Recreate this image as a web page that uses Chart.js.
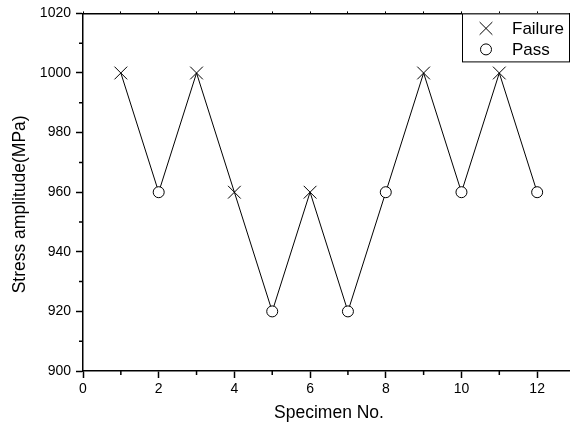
<!DOCTYPE html>
<html>
<head>
<meta charset="utf-8">
<script src="https://cdn.jsdelivr.net/npm/chart.js"></script>
<style>
  html, body { margin: 0; padding: 0; background: #fff; overflow: hidden; }
  #wrap { width: 576px; height: 428px; }
</style>
</head>
<body>
<div id="wrap"><canvas id="fatigueChart" width="576" height="428"></canvas></div>
<script>
// specimen number, stress level and outcome of each test (up-and-down method)
const specimens = [1, 2, 3, 4, 5, 6, 7, 8, 9, 10, 11, 12];
const stressAmplitude = [1000, 960, 1000, 960, 920, 960, 920, 960, 1000, 960, 1000, 960];
const outcome = ["F", "P", "F", "F", "P", "F", "P", "P", "F", "P", "F", "P"];

const xTicks = [0, 2, 4, 6, 8, 10, 12];
const yTicks = [900, 920, 940, 960, 980, 1000, 1020];

const allPoints = specimens.map((s, i) => ({ x: s, y: stressAmplitude[i] }));
const failurePoints = allPoints.filter((p, i) => outcome[i] === "F");
const passPoints = allPoints.filter((p, i) => outcome[i] === "P");

const FONT = "'Liberation Sans', Arial, sans-serif";

// short minor ticks between the labelled ones
const minorTicks = {
  id: "minorTicks",
  afterDraw(chart) {
    const { ctx, chartArea } = chart;
    const x = chart.scales.x;
    const y = chart.scales.y;
    ctx.save();
    ctx.strokeStyle = "#000";
    ctx.lineWidth = 1.5;
    ctx.beginPath();
    for (let i = 0; i < xTicks.length; i++) {
      const px = x.getPixelForValue(xTicks[i] + 1);
      ctx.moveTo(px, chartArea.bottom);
      ctx.lineTo(px, chartArea.bottom + 4);
    }
    for (let i = 0; i < yTicks.length - 1; i++) {
      const py = y.getPixelForValue(yTicks[i] + 10);
      ctx.moveTo(chartArea.left, py);
      ctx.lineTo(chartArea.left - 4, py);
    }
    ctx.stroke();
    ctx.restore();
  }
};

// boxed legend in the top right corner
const boxLegend = {
  id: "boxLegend",
  afterDraw(chart) {
    const { ctx, chartArea } = chart;
    const w = 107, h = 48;
    const left = chartArea.right - 6 - w;
    const top = chartArea.top;
    ctx.save();
    ctx.fillStyle = "#fff";
    ctx.fillRect(left, top, w, h);
    ctx.strokeStyle = "#000";
    ctx.lineWidth = 1;
    ctx.strokeRect(left + 0.5, top + 0.5, w, h);
    ctx.font = "17px " + FONT;
    ctx.textBaseline = "middle";
    const items = chart.data.datasets.filter(d => d.label);
    items.forEach((d, i) => {
      const cy = top + 15 + i * 21;
      ctx.fillStyle = d.backgroundColor;
      ctx.strokeStyle = d.borderColor;
      Chart.helpers.drawPoint(ctx, {
        pointStyle: d.pointStyle,
        radius: d.pointRadius,
        borderWidth: d.borderWidth,
        rotation: 0
      }, left + 24, cy);
      ctx.fillStyle = "#000";
      ctx.fillText(d.label, left + 50, cy + 1);
    });
    ctx.restore();
  }
};

new Chart(document.getElementById("fatigueChart"), {
  type: "scatter",
  data: {
    datasets: [
      {
        label: "Failure",
        data: failurePoints,
        pointStyle: "crossRot",
        pointRadius: 9,
        pointHoverRadius: 9,
        borderColor: "#000",
        backgroundColor: "#000",
        borderWidth: 1
      },
      {
        label: "Pass",
        data: passPoints,
        pointStyle: "circle",
        pointRadius: 5.5,
        pointHoverRadius: 5.5,
        borderColor: "#000",
        backgroundColor: "#fff",
        borderWidth: 1
      },
      {
        data: allPoints,
        showLine: true,
        pointRadius: 0,
        borderColor: "#000",
        borderWidth: 1
      }
    ]
  },
  options: {
    responsive: false,
    animation: false,
    layout: { autoPadding: false, padding: { left: 0, right: 1, top: 0, bottom: 0 } },
    plugins: {
      legend: { display: false },
      tooltip: { enabled: false }
    },
    scales: {
      x: {
        type: "linear",
        position: "bottom",
        min: 0,
        max: 13,
        afterBuildTicks: s => { s.ticks = xTicks.map(v => ({ value: v })); },
        afterFit: s => { s.height = 57; s.paddingLeft = 0; s.paddingRight = 0; },
        ticks: { color: "#000", font: { family: FONT, size: 14 }, padding: 3, maxRotation: 0, callback: v => String(v) },
        grid: { drawOnChartArea: false, tickLength: 7, color: "#000", tickWidth: 1.5 },
        border: { color: "#000", width: 1.5 },
        title: {
          display: true,
          text: "Specimen No.",
          color: "#000",
          font: { family: FONT, size: 17.5 },
          padding: { top: 0, bottom: 4 }
        }
      },
      x2: {
        type: "linear",
        position: "top",
        min: 0,
        max: 13,
        afterBuildTicks: s => { s.ticks = specimens.concat([0]).map(v => ({ value: v })); },
        afterFit: s => { s.height = 12; s.paddingLeft = 0; s.paddingRight = 0; },
        ticks: { display: false },
        grid: { drawOnChartArea: false, tickLength: 2, color: "#000", tickWidth: 1 },
        border: { color: "#000", width: 1.5 }
      },
      y: {
        type: "linear",
        min: 900,
        max: 1020,
        afterBuildTicks: s => { s.ticks = yTicks.map(v => ({ value: v })); },
        afterFit: s => { s.width = 83; },
        ticks: { color: "#000", font: { family: FONT, size: 14 }, padding: 5, callback: v => String(v) },
        grid: { drawOnChartArea: false, tickLength: 7, color: "#000", tickWidth: 1.5 },
        border: { color: "#000", width: 1.5 },
        title: {
          display: true,
          text: "Stress amplitude(MPa)     ",
          color: "#000",
          font: { family: FONT, size: 17.5 },
          padding: { top: 10, bottom: 0 }
        }
      }
    }
  },
  plugins: [minorTicks, boxLegend]
});
</script>
</body>
</html>
